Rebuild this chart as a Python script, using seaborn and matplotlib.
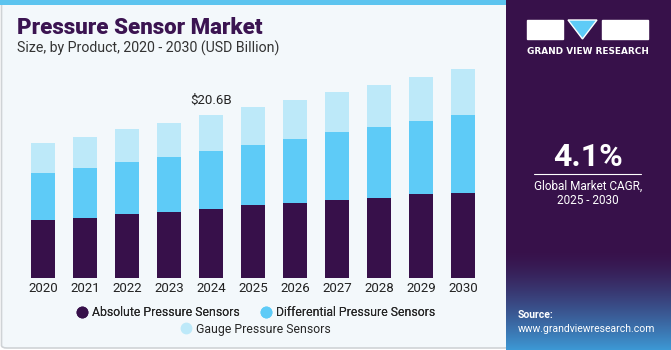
import numpy as np
import pandas as pd
import matplotlib
matplotlib.use('Agg')
import matplotlib.pyplot as plt
import seaborn as sns
from matplotlib.patches import FancyBboxPatch, Rectangle, Polygon
from matplotlib.lines import Line2D

sns.set_style("white")
plt.rcParams['font.family'] = ['Roboto', 'DejaVu Sans']

years = ['2020', '2021', '2022', '2023', '2024', '2025', '2026', '2027', '2028', '2029', '2030']
absolute = [7.31, 7.64, 8.07, 8.40, 8.70, 9.21, 9.46, 9.84, 10.16, 10.59, 10.79]
differential = [5.97, 6.27, 6.63, 6.94, 7.39, 7.64, 8.15, 8.61, 8.88, 9.24, 9.84]
gauge = [3.75, 3.91, 4.12, 4.25, 4.50, 4.72, 4.92, 5.08, 5.33, 5.55, 5.72]
series_names = ['Absolute Pressure Sensors', 'Differential Pressure Sensors', 'Gauge Pressure Sensors']
colors = ['#37104a', '#5ecbf7', '#bde9f9']

W, H = 671, 350
def fx(x):
    return x / W
def fy(y):
    return 1 - y / H

df = pd.DataFrame({'year': years, 'abs': absolute, 'diff': differential, 'gauge': gauge})
df['lvl1'] = df['abs']
df['lvl2'] = df['abs'] + df['diff']
df['lvl3'] = df['lvl2'] + df['gauge']

fig = plt.figure(figsize=(W / 100, H / 100), dpi=100)
fig.patch.set_facecolor('white')

# left card
card = FancyBboxPatch((fx(1.5), fy(348)), fx(508), fy(2) - fy(348),
                      boxstyle="round,pad=0,rounding_size=0.008",
                      transform=fig.transFigure, facecolor='#f3f8fb',
                      edgecolor='#cfd3d6', linewidth=1.2, zorder=-3)
fig.patches.append(card)
fig.patches.append(Rectangle((0, fy(5)), fx(506), fy(0) - fy(5), transform=fig.transFigure,
                             facecolor='#5cc4ef', edgecolor='none', zorder=-2))

# right panel with gradient at the bottom
ax_r = fig.add_axes([fx(506), 0, fx(165), 1])
grad = np.zeros((350, 1, 3))
top_c = np.array([0x37, 0x11, 0x4a]) / 255
bot_c = np.array([0x3d, 0x9a, 0xd6]) / 255
for i in range(350):
    t = max(0, (i - 250) / 100)
    grad[i, 0] = top_c * (1 - t ** 1.4) + bot_c * t ** 1.4
ax_r.imshow(grad, aspect='auto', extent=[0, 1, 0, 1], origin='upper')
ax_r.set_xlim(0, 1)
ax_r.set_ylim(0, 1)
ax_r.axis('off')

# logo
for x0, x1 in [(527, 563), (602, 648)]:
    fig.patches.append(Rectangle((fx(x0), fy(39)), fx(x1 - x0), fy(20) - fy(39),
                                 transform=fig.transFigure, facecolor='white', zorder=5))
fig.patches.append(Polygon([[fx(568), fy(20)], [fx(597), fy(20)], [fx(582.5), fy(39)]],
                           closed=True, transform=fig.transFigure, facecolor='#5ecbf7', zorder=5))
fig.text(fx(587.5), fy(51), 'GRAND VIEW RESEARCH', color='white', fontsize=6.4,
         fontweight='bold', ha='center', va='center', family='DejaVu Sans')

fig.text(fx(588), fy(157), '4.1%', color='white', fontsize=23, fontweight='bold',
         ha='center', va='center')
fig.lines.append(Line2D([fx(534), fx(641)], [fy(173.5), fy(173.5)], transform=fig.transFigure,
                        color='white', linewidth=0.8))
fig.text(fx(588), fy(186), 'Global Market CAGR,', color='white', fontsize=8.5,
         ha='center', va='center')
fig.text(fx(588), fy(201), '2025 - 2030', color='white', fontsize=8.5,
         ha='center', va='center')
fig.text(fx(518), fy(315), 'Source:', color='white', fontsize=7.5, fontweight='bold',
         ha='left', va='center')
fig.text(fx(518), fy(329.5), 'www.grandviewresearch.com', color='white', fontsize=7.5,
         ha='left', va='center')

# titles
fig.text(fx(17), fy(28), 'Pressure Sensor Market', color='#3b1451', fontsize=16,
         fontweight='heavy', ha='left', va='center')
fig.text(fx(17), fy(48), 'Size, by Product, 2020 - 2030 (USD Billion)', color='#333333',
         fontsize=10.2, ha='left', va='center')

# main chart
ax = fig.add_axes([fx(22), fy(278.3), fx(462), fy(60) - fy(278.3)])
ax.set_facecolor('none')
for col, c in zip(['lvl3', 'lvl2', 'lvl1'], colors[::-1]):
    sns.barplot(data=df, x='year', y=col, color=c, width=0.57, saturation=1,
                linewidth=0, ax=ax)
ax.set_xlim(-0.5, 10.5)
ax.set_ylim(0, 218.3 * 0.1261)
ax.set_xlabel('')
ax.set_ylabel('')
ax.set_yticks([])
ax.tick_params(axis='x', length=0, pad=3, labelsize=9.5, labelcolor='#222222')
sns.despine(ax=ax, left=True, bottom=True)
ax.text(4, df['lvl3'][4] + 1.8, '$20.6B', ha='center', va='center', fontsize=9.5,
        color='#222222')

# legend
handles = [Line2D([], [], marker='o', linestyle='none', markersize=7.5, color=c) for c in colors]
leg1 = fig.legend(handles[:2], series_names[:2], loc='center', ncol=2,
                  bbox_to_anchor=(fx(255), fy(312.7)), frameon=False, fontsize=8.8,
                  handletextpad=0.2, columnspacing=1.6, handlelength=1.2)
fig.legend(handles[2:], series_names[2:], loc='center', ncol=1,
           bbox_to_anchor=(fx(255), fy(329)), frameon=False, fontsize=8.8,
           handletextpad=0.2, handlelength=1.2)
fig.add_artist(leg1)

fig.savefig('out.png', dpi=100)
